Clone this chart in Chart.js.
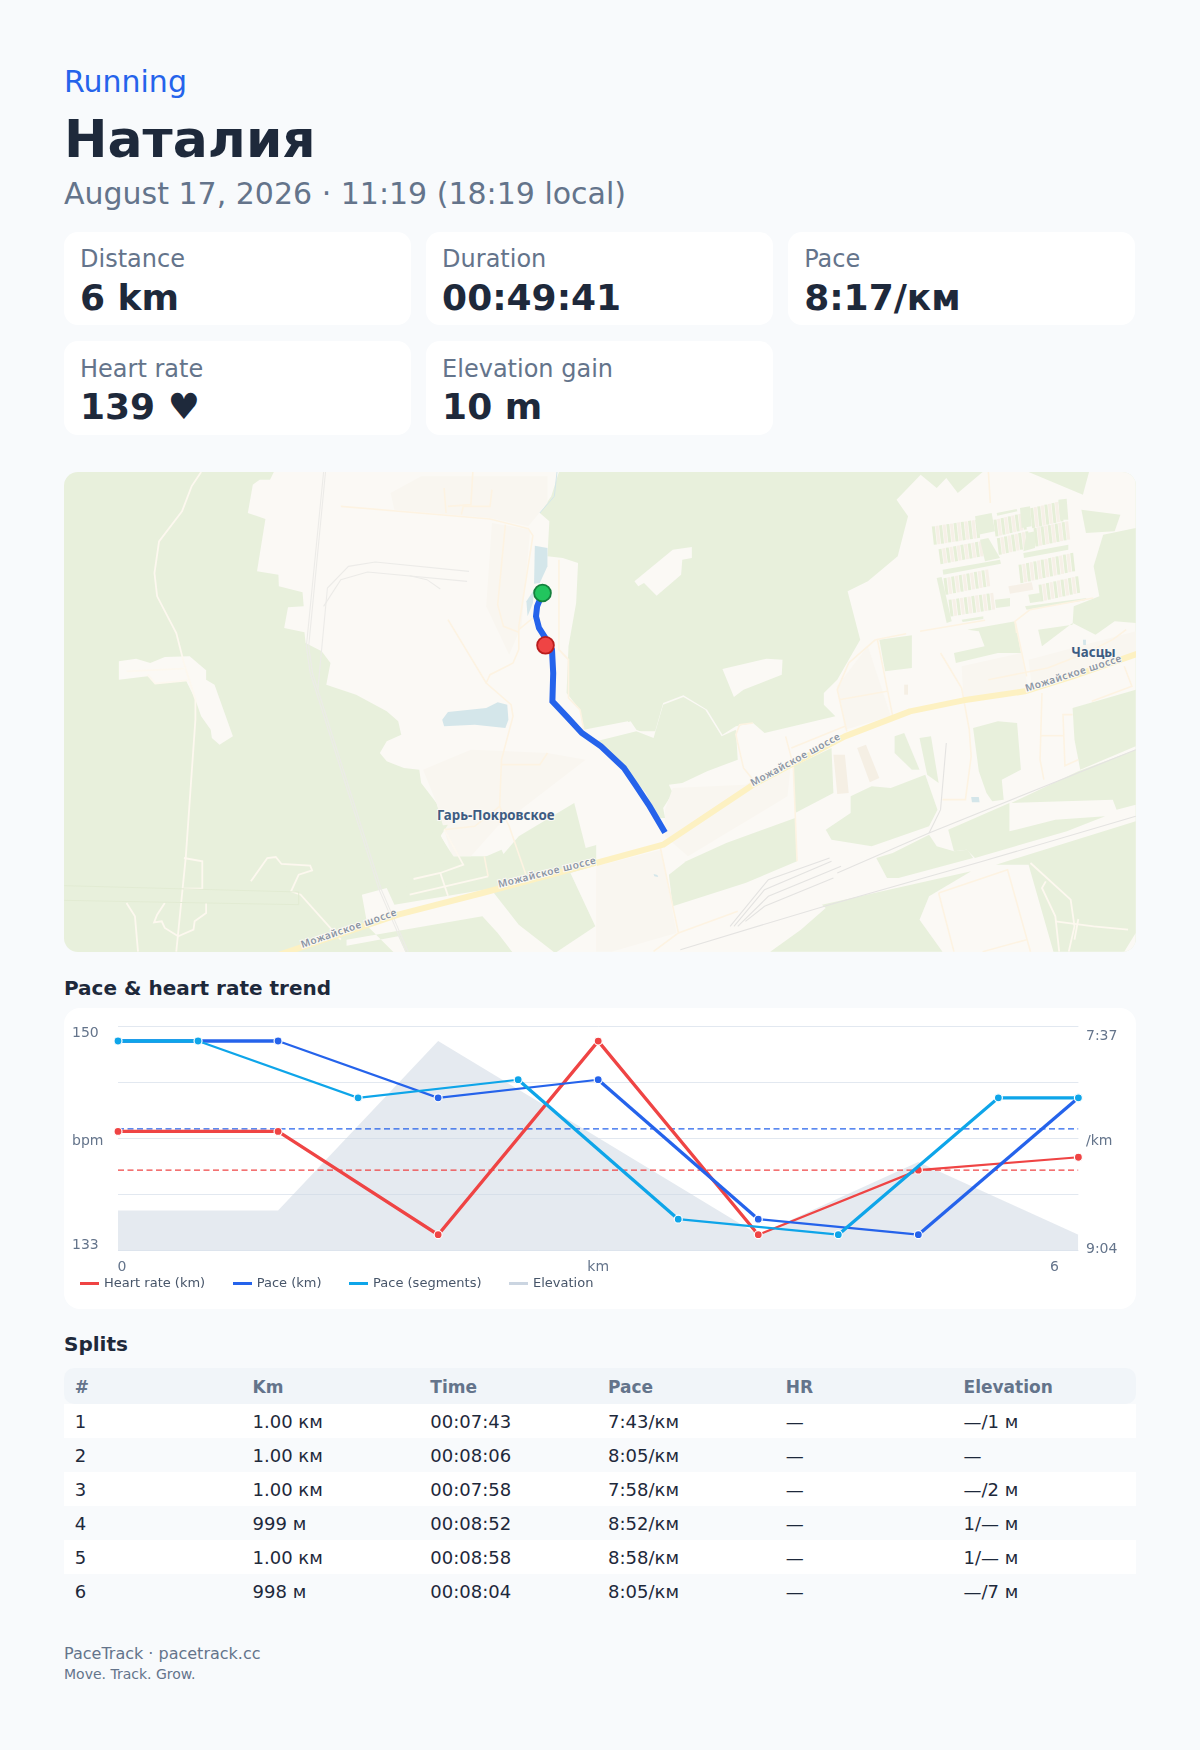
<!DOCTYPE html>
<html lang="en">
<head>
<meta charset="utf-8">
<title>Running - Наталия</title>
<script src="https://cdn.jsdelivr.net/npm/chart.js@4"></script>
<style>
* { box-sizing: border-box; }
html, body { margin: 0; background: #f8fafc; }
body { width: 1200px; height: 1750px; padding: 64px 64px 0; font-family: 'DejaVu Sans', sans-serif; color: #1e293b; overflow: hidden; }
.tag { font-size: 30px; line-height: 36px; color: #2563eb; }
h1 { margin: 6px 0 0; font-size: 52px; line-height: 66px; font-weight: 700; }
.date { margin-top: 3px; font-size: 30px; line-height: 38px; color: #64748b; }
.stats { display: grid; grid-template-columns: repeat(3, 346.7px); gap: 16.6px 15.4px; margin-top: 18.5px; }
.stat { height: 93.3px; padding: 11.5px 16px 0; background: #fff; border-radius: 14px; }
.stat .label { font-size: 24px; line-height: 32.5px; color: #64748b; }
.stat .value { font-size: 36px; line-height: 44px; font-weight: 700; }
#map { position: relative; height: 480px; margin-top: 37.6px; border-radius: 14px; overflow: hidden; background: #e8f0dc; }
#map svg, #routeWrap { position: absolute; left: 0; top: 0; width: 1072px; height: 480px; }
#map polyline, #map line { fill: none; vector-effect: non-scaling-stroke; }
.land { fill: #fbf9f5; }
.green { fill: #e8f0dc; }
.tint { fill: #f9f6f0; }
.water { fill: #d4e6ea; }
.road { stroke: #fdf3e2; stroke-width: 1.6; }
.track { stroke: #fdf8ef; stroke-width: 1.8; }
.rail { stroke: #e4e3e1; stroke-width: 1.1; }
.hwy { stroke: #fdf1c2; stroke-width: 6; stroke-linejoin: round; }
.street { font: 600 10px 'Noto Sans', sans-serif; fill: #8a94a2; letter-spacing: .6px; stroke: #fbf9f5; stroke-width: 2px; paint-order: stroke; text-anchor: middle; }
.place { font: 700 13.3px 'Noto Sans', sans-serif; fill: #3e5c82; stroke: #fbf9f5; stroke-width: 2px; paint-order: stroke; text-anchor: middle; }
h2 { margin: 0; font-size: 20px; line-height: 28px; font-weight: 700; }
.trendTitle { margin-top: 21.4px; }
.chartCard { position: relative; height: 300.7px; margin-top: 6.6px; background: #fff; border-radius: 16px; }
.chartCard canvas { position: absolute; left: 0; top: 0; }
#legend { position: absolute; left: 16px; top: 267px; display: flex; gap: 27.5px; font-size: 13px; line-height: 16px; color: #475569; }
.legend-item { display: flex; align-items: center; gap: 5px; }
.legend-line { width: 19px; height: 3px; }
.splitsTitle { margin-top: 21px; }
table { width: 1072px; margin-top: 10px; border-collapse: collapse; table-layout: fixed; font-size: 18px; }
th, td { text-align: left; padding: 2px 10.8px 0; height: 34px; font-weight: 400; }
th { width: 177.75px; height: 36px; font-size: 17px; font-weight: 700; color: #64748b; background: #f1f5f9; }
th:first-child { border-radius: 10px 0 0 10px; }
th:last-child { width: auto; border-radius: 0 10px 10px 0; }
tbody tr:nth-child(odd) { background: #fff; }
.foot { margin-top: 35px; font-size: 16px; line-height: 22px; color: #64748b; }
.foot small { display: block; font-size: 14px; line-height: 19px; }
</style>
</head>
<body>
<div class="tag">Running</div>
<h1>Наталия</h1>
<div class="date">August 17, 2026 · 11:19 (18:19 local)</div>
<div class="stats" id="stats"></div>

<div id="map">
<svg viewBox="0 0 1072 480">
  <g transform="translate(-14,-12.33) scale(0.38265,0.33333)">
    <polygon class="land" points="585,37 575,60 548,60 530,75 517,160 563,178 541,335 597,345 598,380 660,398 663,440 622,443 612,505 665,518 668,550 710,575 733,610 722,675 800,705 880,755 910,785 918,825 880,845 862,880 880,905 925,925 965,930 970,970 1010,1030 1030,1100 1010,1105 1050,1190 1180,1190 1225,1130 1370,1030 1400,1165 1600,1100 1600,815 1530,815 1510,785 1395,810 1385,750 1350,700 1355,560 1375,430 1380,310 1340,295 1300,290 1305,185 1280,160 1310,110 1330,37"/>
    <polygon class="land" points="1360,1240 1600,1160 1600,1480 1320,1480 1425,1400"/>
    <polygon class="land" points="815,1305 880,1285 900,1335 1135,1290 1160,1300 1225,1395 1320,1480 1210,1480 1170,1420 1130,1370 775,1440 775,1458 910,1430 930,1480 900,1480 830,1400"/>
    <polygon class="land" points="180,605 225,597 262,610 300,592 365,590 408,632 408,660 430,675 478,830 443,855 423,835 420,810 395,770 380,720 355,662 275,672 255,650 180,660"/>
    <polygon class="tint" points="1155,190 1255,210 1232,500 1200,585 1140,440"/>
    <polygon class="tint" points="890,100 970,50 1300,50 1300,130 1250,200 1150,175 900,150"/>
    <polygon class="tint" points="975,930 1100,870 1300,880 1400,900 1230,1050 1170,1100 1100,1190 1050,1190 1010,1030"/>
    <polygon class="green" points="1005,1100 1040,1095 1020,1130 1060,1200 1130,1195 1180,1170 1190,1195 1135,1195 1000,1215 930,1260 935,1300 1030,1300 940,1305"/>
    <polygon class="water" points="1267,258 1300,265 1300,320 1280,370 1265,372"/>
    <polygon class="water" points="1245,425 1265,390 1262,430 1248,470"/>
    <polygon class="water" points="1025,780 1040,757 1140,745 1170,728 1195,735 1198,780 1190,805 1110,795 1030,800"/>
    <polyline class="water" style="fill:none;stroke:#d4e6ea;stroke-width:1" points="1325,37 1318,110 1280,160"/>
    <polyline class="track" points="395,37 370,80 345,155 285,245 273,340 280,410 330,520 350,610 380,720 380,780 355,1190 330,1476"/>
    <polyline class="track" points="200,635 350,627"/>
    <polyline class="track" points="255,645 275,672 360,662"/>
    <polyline class="track" points="350,1195 398,1205 398,1287 350,1287"/>
    <polyline class="track" points="525,1265 568,1195 590,1192 605,1213 680,1218 685,1232 650,1245 630,1295 655,1305 760,1440"/>
    <polyline class="track" points="200,1330 222,1370 230,1476"/>
    <polyline class="track" points="300,1330 280,1365 272,1388 292,1385 300,1405 335,1430 375,1410 378,1385 408,1360 408,1330"/>
    <polyline style="stroke:#e2ebd3;stroke-width:1" points="37,1278 650,1297 650,1335 410,1330 37,1322"/>
    <polyline class="rail" style="stroke:#ecebe8" points="715,37 670,560 680,640 860,1290 930,1476"/>
    <polyline class="rail" style="stroke:#ecebe8" points="720,37 676,560 686,640 866,1290 936,1476"/>
    <polyline class="rail" style="stroke:#ecebe8" points="1095,335 850,307 780,320 725,385 700,690"/>
    <polyline class="rail" style="stroke:#ecebe8" points="1090,365 830,337 760,360 715,440"/>
    <polyline class="rail" style="stroke:#ecebe8" points="940,348 985,360 1020,388"/>
    <polyline class="road" points="760,140 1150,178 1250,207 1262,228 1225,500 1225,570 1210,610 1150,645 1140,670 1205,735 1210,770 1180,900 1175,1040 1200,1100 1245,1250"/>
    <polyline class="road" points="1040,480 1140,670"/>
    <polyline class="road" points="1190,195 1170,435 1185,500 1225,518"/>
    <polyline class="road" points="1225,510 1262,475"/>
    <polyline class="road" points="1330,300 1330,570 1355,600 1355,715 1385,750 1395,810"/>
    <polyline class="road" points="1030,85 1035,160"/>
    <polyline class="road" points="1105,37 1100,135 1040,140"/>
    <polyline class="road" points="1155,90 1150,140 1080,140 1075,165"/>
    <polyline class="road" points="1180,915 1280,915 1300,880"/>
    <polyline class="road" points="1030,1110 1110,1100 1175,1040"/>
    <polyline class="track" points="1030,1110 1080,1215 1020,1240 950,1258"/>
    <polyline class="track" points="1020,1240 1040,1308"/>
    <polyline class="track" points="940,1305 1145,1250"/>
    <polyline class="road" points="1135,1190 1145,1250"/>
    <polyline class="hwy" points="600,1485 910,1365 1130,1300 1600,1156"/>
  </g>
  <g transform="translate(536,-12.33) scale(0.38265,0.33333)">
    <polygon class="land" points="1000,37 935,100 905,55 880,85 838,45 775,120 805,170 778,290 700,365 647,395 680,540 620,660 585,700 585,735 615,770 430,820 400,790 355,800 320,825 280,750 218,707 165,730 140,832 95,810 80,785 -10,825 -10,1480 1400,1480 1400,37"/>
    <polygon class="land" points="90,365 190,270 240,262 240,295 215,300 212,345 148,408 115,370 100,380"/>
    <polygon class="land" points="320,628 435,597 477,600 475,645 375,690 350,712"/>
    <polygon class="green" points="-10,845 95,815 140,835 165,735 218,712 275,750 318,830 355,810 360,900 280,935 215,970 180,975 190,1000 165,1045 170,1075 150,1075 120,1000 60,920 -10,860"/>
    <polygon class="tint" points="620,680 700,560 760,770 640,810"/>
    <polygon class="tint" points="945,620 1100,580 1120,690 950,720"/>
    <polygon class="tint" points="1120,600 1400,515 1400,590 1130,690"/>
    <polygon class="tint" points="380,975 500,900 490,1010 230,1190 170,1130 170,1050 190,985"/>
    <polygon class="tint" points="-10,1220 160,1170 200,1420 30,1476 -10,1476"/>
    <polygon class="green" points="730,540 815,527 815,625 745,635"/>
    <polygon class="green" points="960,510 1085,485 1100,580 1040,580 930,610 925,580 1005,560 990,515"/>
    <polygon class="green" points="1120,37 1278,37 1262,105"/>
    <polygon class="green" points="1258,150 1360,165 1345,215 1270,220"/>
    <polygon class="green" points="1315,225 1400,205 1400,490 1345,485 1295,525 1235,490 1155,560 1145,510 1235,495 1238,440 1305,410 1290,320"/>
    <polygon class="green" points="975,805 1040,785 1090,790 1100,930 1050,960 1055,1020 1025,1025 1010,1000 990,935"/>
    <polygon class="green" points="1235,745 1400,690 1400,860 1255,930 1240,840"/>
    <polygon class="green" points="505,920 605,865 610,1000 510,1060"/>
    <polygon class="green" points="590,1110 655,1060 655,1010 710,980 760,985 850,945 882,1050 860,1100 710,1160 605,1140"/>
    <polygon class="green" points="770,830 795,820 835,930 815,930 770,880"/>
    <polygon class="green" points="835,835 865,830 885,970 855,945"/>
    <polygon class="green" points="910,1110 1070,1030 1070,1115 1190,1080 1320,1070 1220,1115 980,1195 958,1170 925,1175"/>
    <polygon class="green" points="1075,1030 1340,1020 1350,1050 1400,1035 1400,870 1250,935"/>
    <polygon class="green" points="225,1205 330,1150 510,1075 515,1205 380,1270 190,1340 180,1245"/>
    <polygon class="green" points="765,1180 860,1125 880,1160 925,1175 960,1170 975,1195 780,1255 750,1255 722,1195"/>
    <polygon class="green" points="580,1335 970,1235 860,1310 835,1380 895,1476 445,1476 525,1410 590,1345"/>
    <polygon class="green" points="1035,1215 1400,1085 1400,1420 1370,1476 1185,1476 1120,1215"/>
    <polygon style="fill:#f5efe4" points="610,885 640,885 650,1000 620,1003"/>
    <polygon style="fill:#f5efe4" points="672,865 695,855 730,955 705,968"/>
    <polygon style="fill:#f5efe4" points="795,675 805,675 805,705 795,705"/>
    <polygon class="water" points="970,1012 990,1012 992,1028 972,1028"/>
    <polygon class="water" points="1262,540 1270,540 1270,556 1263,556"/>
    <polygon class="water" points="140,1243 150,1246 152,1252 142,1250"/>
    <polyline class="rail" points="1400,870 860,1120 620,1240"/>
    <polyline class="rail" points="1400,1070 1000,1205 600,1335 210,1470"/>
    <polyline class="rail" points="600,1195 440,1260 340,1400"/>
    <polyline class="rail" points="605,1205 430,1290 350,1400"/>
    <polyline class="rail" points="630,1220 440,1310 360,1400"/>
    <polyline class="rail" points="610,1255 430,1340 380,1385"/>
    <polyline class="rail" points="905,850 890,1050 860,1120"/>
    <polyline class="road" points="1015,37 1020,130"/>
    <polyline class="road" points="720,540 800,522"/>
    <polyline class="road" points="720,540 650,610 620,690 645,815"/>
    <polyline class="road" points="725,540 765,770"/>
    <polyline class="road" points="625,720 750,695"/>
    <polyline class="road" points="890,580 945,685 965,810 970,890 955,1020 895,1020"/>
    <polyline class="road" points="1085,485 1115,650"/>
    <polyline class="road" points="1015,660 1170,625 1270,580 1340,540 1375,510"/>
    <polyline class="road" points="1370,620 1390,680 1285,725"/>
    <polyline class="road" points="1155,700 1150,900 1160,960"/>
    <polyline class="road" points="1150,828 1210,828"/>
    <polyline class="road" points="1235,765 1210,765 1215,918 1250,900"/>
    <polyline class="road" points="500,865 640,800"/>
    <polyline class="road" points="485,830 505,915 515,1205"/>
    <polyline class="road" points="400,960 375,925 355,825 365,795 400,790"/>
    <polyline class="road" points="158,1165 205,1420 140,1475"/>
    <polyline class="road" points="205,1420 360,1355"/>
    <polyline class="road" points="885,1300 1065,1230 1125,1476"/>
    <polyline class="road" points="885,1300 925,1476"/>
    <polyline class="road" points="1000,1476 1115,1440"/>
    <polyline class="track" points="1125,1210 1230,1320 1240,1400 1225,1476"/>
    <polyline class="track" points="1165,1265 1155,1285 1190,1370 1200,1476"/>
    <polyline class="track" points="1190,1385 1290,1400 1380,1410"/>
    <polyline class="track" points="1250,1378 1240,1440"/>
    <polyline class="hwy" points="-10,1210 165,1155 400,975 640,830 810,755 950,722 1110,695 1235,650 1410,580"/>
  </g>
  <g id="garden" transform="translate(856,17.67) scale(0.33333)">
    <polygon class="green" points="165,80 215,70 225,125 175,135"/>
    <polygon class="green" points="180,150 205,145 240,205 195,215"/>
    <polygon class="green" points="68,240 240,210 243,222 70,255"/>
    <polygon class="green" points="50,265 65,262 95,395 80,400"/>
    <polygon class="green" points="300,55 330,50 335,110 305,115"/>
    <polygon class="green" points="310,190 445,165 445,180 312,205"/>
    <polygon class="green" points="415,30 440,27 445,90 420,90"/>
    <polygon class="green" points="320,130 345,125 345,175 310,185"/>
    <polygon class="green" points="225,330 270,325 270,350 228,355"/>
    <polygon class="green" points="230,70 290,58 292,65 232,78"/>
    <polygon class="green" points="325,315 360,310 365,335 330,340"/>
    <polygon class="green" points="315,350 500,325 495,332 320,360"/>
    <polygon class="green" points="125,390 190,380 190,388 128,397"/>
    <polygon style="fill:#f6f0e7" points="265,290 335,278 340,300 270,312"/>
    <polyline class="road" points="0,425 195,392"/>
    <polyline class="road" points="290,430 285,395 330,360 520,325"/>
  </g>
  <text class="street" transform="translate(286,459.5) rotate(-19)">Можайское шоссе</text>
  <text class="street" transform="translate(484,403.5) rotate(-14)">Можайское шоссе</text>
  <text class="street" transform="translate(733,290.5) rotate(-28.5)">Можайское шоссе</text>
  <text class="street" transform="translate(1010.5,204.5) rotate(-17.7)">Можайское шоссе</text>
  <text class="place" x="431.7" y="347.5">Гарь-Покровское</text>
  <text class="place" x="1029.5" y="184.5">Часцы</text>
</svg>
<div id="routeWrap"><canvas id="route" width="1072" height="480"></canvas></div>
</div>

<h2 class="trendTitle">Pace &amp; heart rate trend</h2>
<div class="chartCard">
  <canvas id="trend" width="1072" height="301"></canvas>
  <div id="legend"></div>
</div>

<h2 class="splitsTitle">Splits</h2>
<table>
  <thead><tr id="splitHead"></tr></thead>
  <tbody id="splitBody"></tbody>
</table>

<div class="foot">PaceTrack · pacetrack.cc<small>Move. Track. Grow.</small></div>

<script>
Chart.defaults.font.family = "'DejaVu Sans', sans-serif";
Chart.defaults.animation = false;

const COLORS = {
  hr: '#ef4444',
  pace: '#2563eb',
  seg: '#0ea5e9',
  elev: '#cbd5e1',
  tick: '#64748b',
  grid: '#e2e8f0',
};

// header cards
const statLabels = ['Distance', 'Duration', 'Pace', 'Heart rate', 'Elevation gain'];
const statValues = ['6 km', '00:49:41', '8:17/км', '139 ♥', '10 m'];

// trend chart
const kmMarks = [0, 1, 2, 3, 4, 5, 6];
const heartRate = [142, 142, 134, 149, 134, 139, 140];
const paceKm = [463, 463, 485, 478, 532, 538, 485];       // seconds per km
const segMarks = [0, 0.5, 1.5, 2.5, 3.5, 4.5, 5.5, 6];
const paceSeg = [463, 463, 485, 478, 532, 538, 485, 485];
const elevation = [1, 1, 8, 4, 0, 3, 0];
const avgHeartRate = 139;
const avgPace = 497;

const hrWidths = [3.3, 3.3, 3.3, 3.3, 2.2, 2.2];
const paceWidths = [3.3, 2.2, 2.2, 3.3, 2.2, 3.3];
const segWidths = [3.3, 2.2, 2.2, 3.3, 2.2, 3.3, 3.3];

const xTickValues = [0.025, 3, 5.85];
const xTickLabels = ['0', 'km', '6'];
const hrTickFractions = [0.032, 0.512, 0.976];
const hrTickLabels = ['150', 'bpm', '133'];
const paceTickFractions = [0.048, 0.512, 0.994];
const paceTickLabels = ['7:37', '/km', '9:04'];

const legendNames = ['Heart rate (km)', 'Pace (km)', 'Pace (segments)', 'Elevation'];
const legendColors = [COLORS.hr, COLORS.pace, COLORS.seg, COLORS.elev];

// splits table
const splitHeads = ['#', 'Km', 'Time', 'Pace', 'HR', 'Elevation'];
const splitNums = ['1', '2', '3', '4', '5', '6'];
const splitDist = ['1.00 км', '1.00 км', '1.00 км', '999 м', '1.00 км', '998 м'];
const splitTime = ['00:07:43', '00:08:06', '00:07:58', '00:08:52', '00:08:58', '00:08:04'];
const splitPace = ['7:43/км', '8:05/км', '7:58/км', '8:52/км', '8:58/км', '8:05/км'];
const splitHr = ['—', '—', '—', '—', '—', '—'];
const splitElev = ['—/1 м', '—', '—/2 м', '1/— м', '1/— м', '—/7 м'];

// route over the map, in map pixels
const routeX = [478.5, 473.1, 472, 475, 481.5, 488, 489.2, 488.4, 502.6, 517.9, 537, 560, 571.4, 585.7, 601];
const routeY = [121, 134.4, 144.4, 156, 166, 177.7, 201, 229.4, 244.4, 261, 274.4, 296, 312.7, 334.4, 360.4];
const startMark = [478.5, 121];
const endMark = [481.5, 173.3];

document.getElementById('stats').innerHTML = statLabels.map((l, i) =>
  `<div class="stat"><div class="label">${l}</div><div class="value">${statValues[i]}</div></div>`
).join('');

document.getElementById('legend').innerHTML = legendNames.map((n, i) =>
  `<span class="legend-item"><span class="legend-line" style="background:${legendColors[i]}"></span>${n}</span>`
).join('');

document.getElementById('splitHead').innerHTML = splitHeads.map(h => `<th>${h}</th>`).join('');
document.getElementById('splitBody').innerHTML = splitNums.map((n, i) =>
  `<tr><td>${n}</td><td>${splitDist[i]}</td><td>${splitTime[i]}</td><td>${splitPace[i]}</td><td>${splitHr[i]}</td><td>${splitElev[i]}</td></tr>`
).join('');

// allotment rows on the map: start x, start y, end x, end y, row height
const gardenRows = [
  [40, 110, 170, 90, 55], [60, 178, 180, 155, 45], [75, 265, 200, 240, 50], [90, 330, 215, 310, 50],
  [225, 90, 310, 70, 50], [335, 55, 420, 35, 60], [235, 145, 320, 125, 50], [345, 115, 440, 95, 55],
  [300, 225, 455, 190, 55], [360, 285, 470, 260, 50],
];
const SVG_NS = 'http://www.w3.org/2000/svg';
const gardenGroup = document.getElementById('garden');
gardenRows.forEach(([x0, y0, x1, y1, h]) => {
  const steps = Math.round((x1 - x0) / 11);
  for (let i = 0; i <= steps; i++) {
    const x = x0 + (x1 - x0) * i / steps;
    const y = y0 + (y1 - y0) * i / steps;
    const stripe = document.createElementNS(SVG_NS, 'line');
    stripe.setAttribute('x1', x);
    stripe.setAttribute('y1', y);
    stripe.setAttribute('x2', x + 6);
    stripe.setAttribute('y2', y + h);
    stripe.style.stroke = i % 2 ? '#f6f0e7' : '#e6efd8';
    stripe.style.strokeWidth = '3';
    gardenGroup.insertBefore(stripe, gardenGroup.firstChild);
  }
});

function trendLine(label, xs, ys, color, widths, axis, order) {
  return {
    label,
    data: xs.map((x, i) => ({ x, y: ys[i] })),
    yAxisID: axis,
    order,
    borderColor: color,
    backgroundColor: color,
    segment: { borderWidth: c => widths[c.p0DataIndex] },
    pointRadius: 4,
    pointBorderColor: '#fff',
    pointBorderWidth: 1.2,
    clip: false,
  };
}

function avgLine(value, color, axis, order) {
  return {
    label: 'avg',
    data: [{ x: 0, y: value }, { x: 6, y: value }],
    yAxisID: axis,
    order,
    borderColor: color,
    borderWidth: 1.3,
    borderDash: [6, 3.5],
    pointRadius: 0,
  };
}

const sideTicks = { color: COLORS.tick, font: { size: 14 }, autoSkip: false };

new Chart(document.getElementById('trend'), {
  type: 'line',
  data: {
    datasets: [
      {
        label: 'Elevation',
        data: kmMarks.map((x, i) => ({ x, y: elevation[i] })),
        yAxisID: 'elev',
        order: 6,
        borderWidth: 0,
        pointRadius: 0,
        fill: 'start',
        backgroundColor: 'rgba(203,213,225,0.5)',
      },
      avgLine(avgHeartRate, COLORS.hr, 'hr', 5),
      avgLine(avgPace, COLORS.pace, 'pace', 4),
      trendLine('Heart rate (km)', kmMarks, heartRate, COLORS.hr, hrWidths, 'hr', 3),
      trendLine('Pace (km)', kmMarks, paceKm, COLORS.pace, paceWidths, 'pace', 2),
      trendLine('Pace (segments)', segMarks, paceSeg, COLORS.seg, segWidths, 'pace', 1),
    ],
  },
  options: {
    responsive: false,
    layout: { autoPadding: false, padding: { left: 8, right: 0, top: 18, bottom: 0 } },
    plugins: { legend: { display: false }, tooltip: { enabled: false } },
    scales: {
      x: {
        type: 'linear', min: 0, max: 6,
        grid: { display: false, drawTicks: false, tickLength: 0 },
        border: { display: false },
        afterFit: s => { s.height = 58.3; },
        afterBuildTicks: s => { s.ticks = xTickValues.map(value => ({ value })); },
        ticks: {
          color: COLORS.tick, font: { size: 14 }, maxRotation: 0, autoSkip: false, padding: 8,
          callback: (v, i) => xTickLabels[i],
        },
      },
      // gridlines only, the label axes sit on top of it
      yGrid: {
        position: 'left', min: 0, max: 4,
        ticks: { display: false, stepSize: 1 },
        grid: { color: COLORS.grid, drawTicks: false },
        border: { display: false },
        afterFit: s => { s.width = 0; },
      },
      hr: {
        position: 'left', min: 132.76, max: 150.17,
        grid: { display: false },
        border: { display: false },
        afterFit: s => { s.width = 46; },
        afterBuildTicks: s => { s.ticks = hrTickFractions.map(f => ({ value: s.max - f * (s.max - s.min) })); },
        ticks: { ...sideTicks, crossAlign: 'far', callback: (v, i) => hrTickLabels[i] },
      },
      pace: {
        position: 'right', reverse: true, min: 457.2, max: 544.2,
        grid: { display: false, drawTicks: false },
        border: { display: false },
        afterFit: s => { s.width = 57.6; },
        afterBuildTicks: s => { s.ticks = paceTickFractions.map(f => ({ value: s.min + f * (s.max - s.min) })); },
        ticks: { ...sideTicks, padding: 7.6, callback: (v, i) => paceTickLabels[i] },
      },
      elev: { display: false, min: -0.66, max: 8.62 },
    },
  },
});

new Chart(document.getElementById('route'), {
  type: 'line',
  data: {
    datasets: [
      {
        data: routeX.map((x, i) => ({ x, y: routeY[i] })),
        borderColor: COLORS.pace,
        borderWidth: 6,
        pointRadius: 0,
        order: 3,
      },
      {
        data: [{ x: startMark[0], y: startMark[1] }],
        pointRadius: 8.4,
        pointBackgroundColor: '#22c55e',
        pointBorderColor: '#15803d',
        pointBorderWidth: 1.8,
        showLine: false,
        order: 1,
      },
      {
        data: [{ x: endMark[0], y: endMark[1] }],
        pointRadius: 8.4,
        pointBackgroundColor: '#ef4444',
        pointBorderColor: '#b91c1c',
        pointBorderWidth: 1.8,
        showLine: false,
        order: 2,
      },
    ],
  },
  options: {
    responsive: false,
    layout: { autoPadding: false, padding: 0 },
    plugins: { legend: { display: false }, tooltip: { enabled: false } },
    scales: {
      x: { type: 'linear', display: false, min: 0, max: 1072 },
      y: { type: 'linear', display: false, min: 0, max: 480, reverse: true },
    },
  },
});
</script>
</body>
</html>
